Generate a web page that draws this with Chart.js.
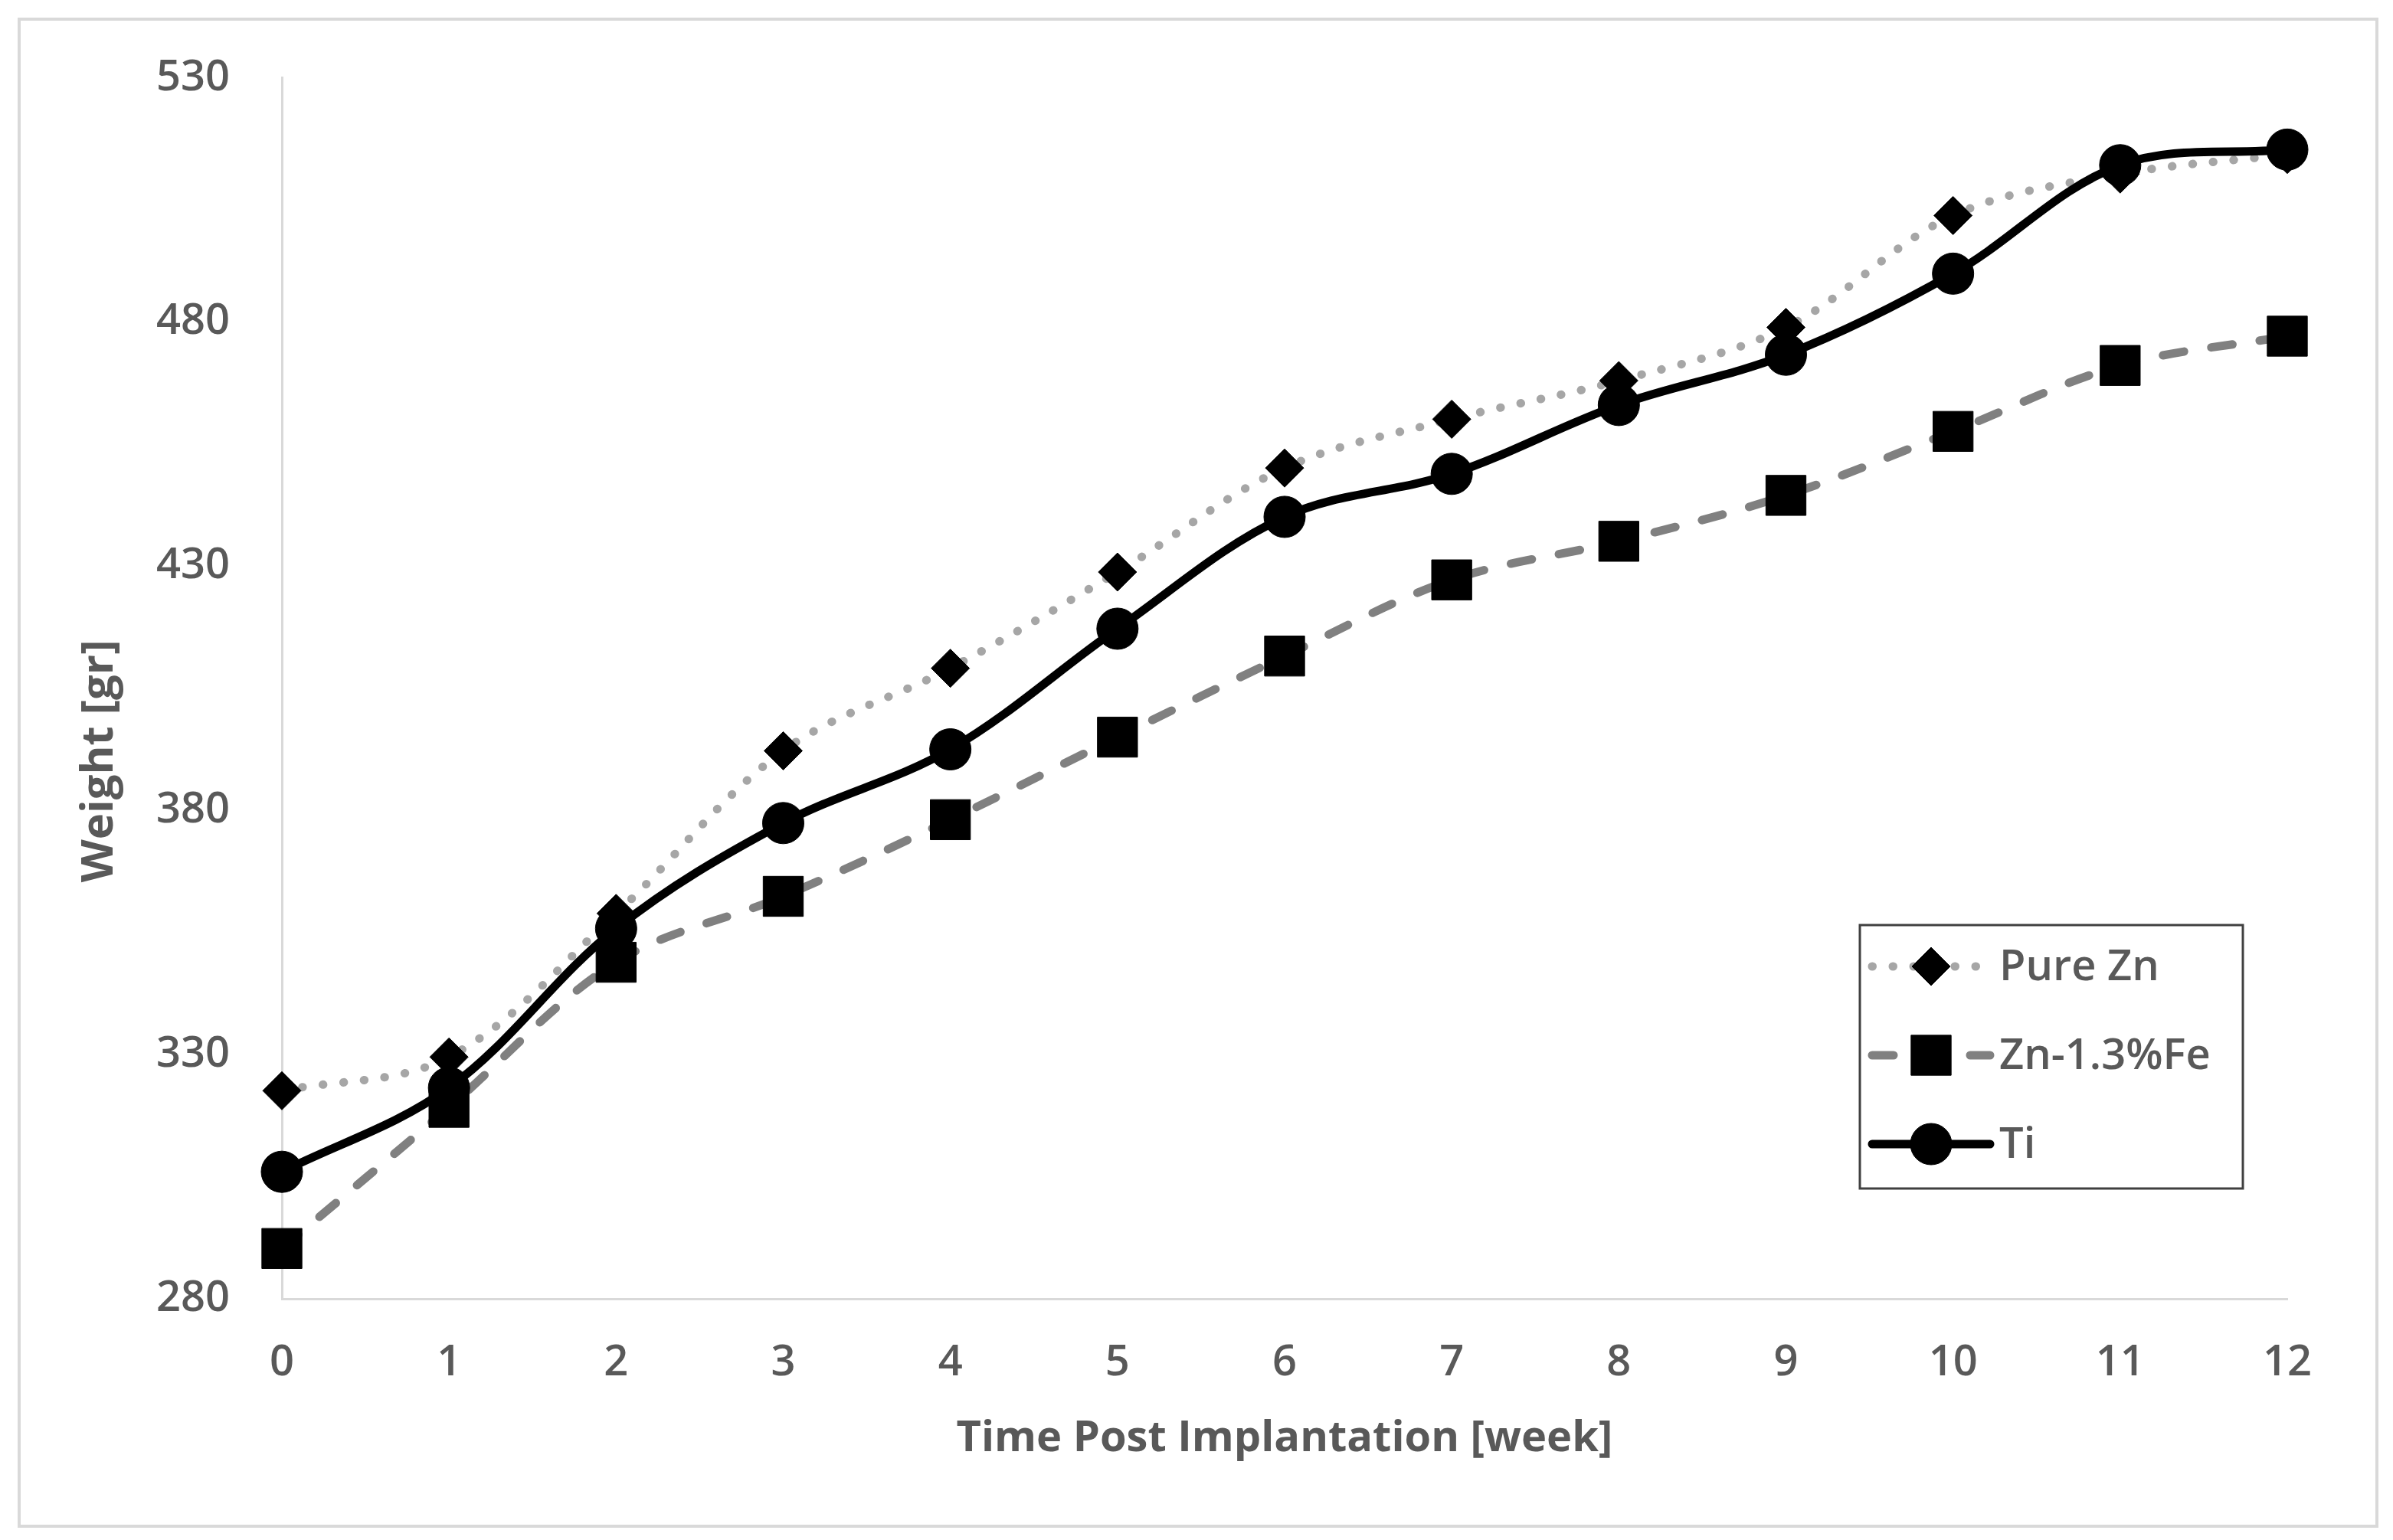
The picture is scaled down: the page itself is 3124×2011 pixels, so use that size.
<!DOCTYPE html>
<html>
<head>
<meta charset="utf-8">
<script src="https://cdn.jsdelivr.net/npm/chart.js@4.4.1/dist/chart.umd.min.js"></script>
<style>
  html, body { margin: 0; padding: 0; background: #fff; }
  canvas { display: block; }
</style>
</head>
<body>
<canvas id="weightChart" width="3124" height="2011"></canvas>
<script>
// weeks after implantation
const weeks = ['0', '1', '2', '3', '4', '5', '6', '7', '8', '9', '10', '11', '12'];
// body weight [gr]
const pureZn = [322.6, 329.5, 358.9, 392.2, 409.1, 428.8, 450.1, 460.1, 468.0, 478.9, 501.8, 510.3, 514.3];
const znFe = [290.3, 319.2, 348.9, 362.4, 378.1, 395.0, 411.6, 427.2, 435.1, 444.5, 457.6, 471.1, 477.1];
const ti = [306.0, 323.2, 355.8, 377.4, 392.5, 417.2, 440.1, 448.9, 463.0, 473.3, 489.9, 512.1, 515.3];
const yTicks = [280, 330, 380, 430, 480, 530];

const textGray = '#595959';
const axisGray = '#d9d9d9';
Chart.defaults.font.family = "'Open Sans', sans-serif";

// light frame around the whole chart, like the Excel chart area
const frame = {
    id: 'frame',
    beforeDraw(chart) {
        const c = chart.ctx;
        c.save();
        c.strokeStyle = axisGray;
        c.lineWidth = 4;
        c.strokeRect(25, 25, 3078, 1968);
        c.restore();
    }
};

// y title drawn by hand, Excel puts it a bit below the middle
const yTitle = {
    id: 'yTitle',
    afterDraw(chart) {
        const c = chart.ctx;
        c.save();
        c.translate(130, 994);
        c.rotate(-Math.PI / 2);
        c.font = "bold 58px 'Open Sans'";
        c.fillStyle = textGray;
        c.textAlign = 'center';
        c.textBaseline = 'middle';
        c.fillText('Weight [gr]', 0, 0);
        c.restore();
    }
};

// boxed legend inside the plot, lower right
const boxLegend = {
    id: 'boxLegend',
    afterDraw(chart) {
        const c = chart.ctx;
        const box = {x: 2428, y: 1208, w: 500, h: 344};
        c.save();
        c.strokeStyle = '#404040';
        c.lineWidth = 3;
        c.strokeRect(box.x, box.y, box.w, box.h);
        const sets = chart.data.datasets.slice().reverse();
        sets.forEach((ds, i) => {
            const y = box.y + 54 + i * 116;
            c.save();
            c.strokeStyle = ds.borderColor;
            c.lineWidth = ds.borderWidth;
            c.lineCap = 'round';
            c.setLineDash(ds.borderDash || []);
            c.beginPath();
            c.moveTo(2444, y);
            c.lineTo(2598, y);
            c.stroke();
            c.restore();
            c.fillStyle = '#000';
            c.strokeStyle = '#000';
            c.lineWidth = 1;
            Chart.helpers.drawPoint(c, {pointStyle: ds.pointStyle, radius: ds.pointRadius, rotation: 0, borderWidth: 1}, 2521, y);
            c.fillStyle = textGray;
            c.font = "600 56px 'Open Sans'";
            c.textAlign = 'left';
            c.textBaseline = 'middle';
            c.fillText(ds.label, 2610, y + 2);
        });
        c.restore();
    }
};

new Chart(document.getElementById('weightChart'), {
    type: 'line',
    data: {
        labels: weeks,
        // Ti last in the legend but drawn on top
        datasets: [
            {
                label: 'Ti',
                data: ti,
                borderColor: '#000000',
                borderWidth: 11,
                pointStyle: 'circle',
                pointRadius: 27,
                pointBackgroundColor: '#000',
                pointBorderColor: '#000',
                pointBorderWidth: 1,
                tension: 0.35,
                clip: false
            },
            {
                label: 'Zn-1.3%Fe',
                data: znFe,
                borderColor: '#808080',
                borderWidth: 11,
                borderDash: [28, 36],
                borderCapStyle: 'round',
                pointStyle: 'rect',
                pointRadius: 37,
                pointBackgroundColor: '#000',
                pointBorderColor: '#000',
                pointBorderWidth: 1,
                tension: 0.35,
                clip: false
            },
            {
                label: 'Pure Zn',
                data: pureZn,
                borderColor: '#a6a6a6',
                borderWidth: 11,
                borderDash: [0.5, 26.5],
                borderCapStyle: 'round',
                pointStyle: 'rectRot',
                pointRadius: 25,
                pointBackgroundColor: '#000',
                pointBorderColor: '#000',
                pointBorderWidth: 1,
                tension: 0.35,
                clip: false
            }
        ]
    },
    options: {
        responsive: false,
        devicePixelRatio: 1,
        animation: false,
        layout: {
            padding: {left: 0, top: 100, right: 138, bottom: 0}
        },
        scales: {
            x: {
                grid: {display: false, drawTicks: false},
                border: {display: true, color: axisGray, width: 3},
                ticks: {
                    color: textGray,
                    padding: 50,
                    font: {size: 56, weight: '600'}
                },
                title: {
                    display: true,
                    text: 'Time Post Implantation [week]',
                    color: textGray,
                    font: {size: 56, weight: 'bold'},
                    padding: {top: 0, bottom: 98}
                },
                afterFit(scale) { scale.height = 315; }
            },
            y: {
                min: 280,
                max: 530,
                grid: {display: false, drawTicks: false},
                border: {display: true, color: axisGray, width: 3},
                ticks: {
                    color: textGray,
                    padding: 68,
                    font: {size: 56, weight: '600'}
                },
                afterBuildTicks(scale) {
                    scale.ticks = yTicks.map(v => ({value: v}));
                },
                afterFit(scale) { scale.width = 368; }
            }
        },
        plugins: {
            legend: {display: false},
            tooltip: {enabled: false}
        }
    },
    plugins: [frame, yTitle, boxLegend]
});
</script>
</body>
</html>
